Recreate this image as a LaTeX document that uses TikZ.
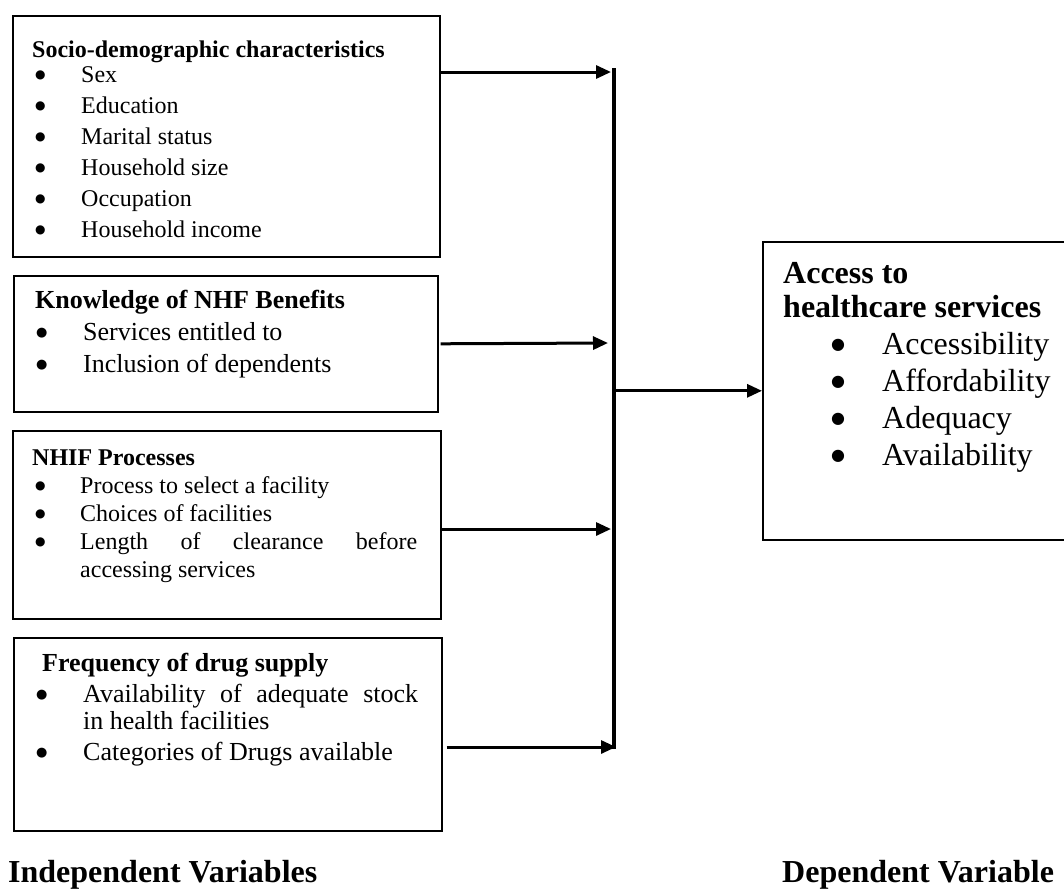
\documentclass[tikz,border=0pt]{standalone}
\usepackage{fontspec}
\setmainfont{Liberation Serif}
\newfontfamily\dotfont{DejaVu Sans}
\usepackage{tikz}
\usetikzlibrary{arrows.meta}

\makeatletter
\newcommand{\vdot}{\raisebox{0.13em}{\dotfont\fontsize{\strip@pt\dimexpr0.5\dimexpr\f@size pt\relax\relax}{1}\selectfont ●}}
\makeatother
\newcommand{\vitem}[3]{\par\noindent\hangindent=#2\hangafter=1\makebox[#2][l]{\hspace*{#1}\vdot}#3}

\begin{document}
\begin{tikzpicture}[
        x=1pt, y=1pt,
        vbox/.style={
            rectangle,
            draw=black,
            line width=1.6pt,
            inner sep=0pt,
            anchor=north west
        },
        vtext/.style={
            anchor=base west,
            inner sep=0pt,
            align=justify
        },
        arrow/.style={
            line width=3pt,
            -{Triangle[length=15pt, width=13pt]}
        },
        bar/.style={
            line width=4pt
        },
        vlabel/.style={
            anchor=base west,
            inner sep=0pt,
            font=\fontsize{32}{38}\selectfont\bfseries
        }
        ]

        \useasboundingbox (0,0) rectangle (1064,-889);

        \node (soc) [vbox, minimum width=427pt, minimum height=241pt] at (12,-15) {};
        \node (know) [vbox, minimum width=424pt, minimum height=136pt] at (13,-275) {};
        \node (proc) [vbox, minimum width=428pt, minimum height=188pt] at (12,-430) {};
        \node (drug) [vbox, minimum width=428pt, minimum height=193pt] at (13,-637) {};
        \node (access) [vbox, minimum width=320pt, minimum height=298pt] at (762,-241) {};

        \node (soct) [vtext, text width=390pt, font=\fontsize{24}{31}\selectfont] at (32,-57) {%
            \noindent\textbf{Socio-demographic characteristics}\par\vspace{-6pt}
            \vitem{3pt}{49pt}{Sex}
            \vitem{3pt}{49pt}{Education}
            \vitem{3pt}{49pt}{Marital status}
            \vitem{3pt}{49pt}{Household size}
            \vitem{3pt}{49pt}{Occupation}
            \vitem{3pt}{49pt}{Household income}\par};
        \node (knowt) [vtext, text width=390pt, font=\fontsize{26}{32}\selectfont] at (35,-308) {%
            \noindent\textbf{Knowledge of NHF Benefits}
            \vitem{1pt}{48pt}{Services entitled to}
            \vitem{1pt}{48pt}{Inclusion of dependents}\par};
        \node (proct) [vtext, text width=385pt, font=\fontsize{24}{28}\selectfont] at (32,-465) {%
            \noindent\textbf{NHIF Processes}
            \vitem{3pt}{48pt}{Process to select a facility}
            \vitem{3pt}{48pt}{Choices of facilities}
            \vitem{3pt}{48pt}{Length of clearance before\linebreak accessing services}\par};
        \node (drugt) [vtext, text width=383pt, font=\fontsize{26}{27}\selectfont] at (35,-671) {%
            \noindent\hspace*{7pt}\textbf{Frequency of drug supply}\par\vspace{4pt}
            \vitem{1pt}{48pt}{Availability of adequate stock\linebreak in health facilities}\par\vspace{4pt}
            \vitem{1pt}{48pt}{Categories of Drugs available}\par};
        \node (accesst) [vtext, text width=275pt, font=\fontsize{32}{34}\selectfont] at (783,-283) {%
            \noindent\textbf{Access to\\healthcare services}\par\fontsize{32}{37}\selectfont
            \vitem{48pt}{99pt}{Accessibility}
            \vitem{48pt}{99pt}{Affordability}
            \vitem{48pt}{99pt}{Adequacy}
            \vitem{48pt}{99pt}{Availability}\par};

        \node (indep) [vlabel] at (8,-882) {Independent Variables};
        \node (dep) [vlabel] at (782,-882) {Dependent Variable};

        \coordinate (bt) at (614,-68);
        \coordinate (bb) at (614,-749);
        \coordinate (j1) at (611,-72);
        \coordinate (j2) at (608,-343);
        \coordinate (j3) at (611,-529);
        \coordinate (j4) at (616,-747);

        \draw [bar] (bt) -- (bb);
        \draw [arrow] (soc.east |- j1) -- (j1);
        \draw [arrow, shorten <=2pt] (know.east) -- (j2);
        \draw [arrow] (proc.east |- j3) -- (j3);
        \draw [arrow, shorten <=4pt] (drug.east |- j4) -- (j4);
        \draw [arrow] (bt |- access.west) -- (access.west);

    \end{tikzpicture}
\end{document}
